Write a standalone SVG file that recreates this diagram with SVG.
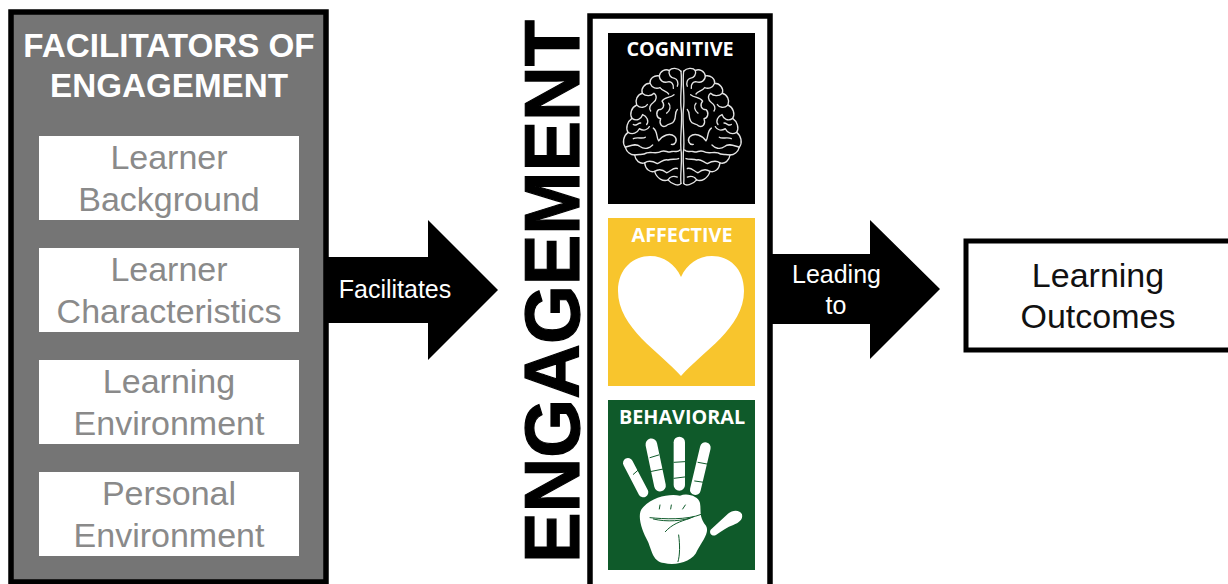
<svg xmlns="http://www.w3.org/2000/svg" width="1228" height="584" viewBox="0 0 1228 584">
<style>
.t{font-family:"Liberation Sans",Arial,sans-serif;text-anchor:middle}
.item{fill:#fff}
.itext{font-size:34px;fill:#8a8a8a}
.ptitle{font-family:"Open Sans","Noto Sans",sans-serif;font-weight:700;font-size:19.8px;text-anchor:middle}
.brain{fill:none;stroke:#e4e4e4;stroke-width:4;stroke-linecap:round;stroke-linejoin:round}
.gap{fill:none;stroke:#0f5a2a;stroke-width:3;stroke-linecap:round}
</style>
<defs>
<g id="half">
<path class="brain" d="M243 150C234 140 215 139 208 148C196 142 180 150 178 163C162 160 148 171 150 184C134 184 122 198 127 212C112 216 104 232 110 245C94 252 88 270 96 283C82 292 76 310 84 322C70 332 66 352 76 364C80 378 92 386 104 386C106 402 120 412 134 408C136 426 150 436 164 432C170 452 190 462 204 456C216 470 238 474 243 466"/>
<path class="brain" d="M243 150C248 190 238 220 244 260C248 300 238 340 244 380C246 420 240 440 243 466"/>
<path class="brain" d="M208 148C204 158 212 170 224 170C232 172 236 182 232 192M178 163C178 176 190 184 204 180C214 178 222 186 220 198M150 184C156 198 170 200 180 196C188 206 200 206 206 214M127 212C138 222 154 220 162 212C172 218 170 232 160 238C150 244 146 254 152 262"/>
<path class="brain" d="M110 245C122 256 136 252 142 244M96 283C110 292 124 284 128 272C140 276 148 290 140 300M84 322C98 330 112 324 118 312C130 318 142 316 148 306M100 300C108 306 112 296 122 296"/>
<path class="brain" d="M222 216C210 226 194 222 186 234C196 246 190 258 176 258C166 266 170 282 182 284C176 298 186 310 198 304C206 296 218 300 222 290C230 280 222 268 232 258M206 240C214 248 210 262 200 268"/>
<path class="brain" d="M160 310C174 320 168 336 176 346C188 330 210 322 224 334C234 344 226 358 214 356M76 364C92 360 108 352 120 362C134 372 150 366 158 358M100 340C112 334 128 342 136 336"/>
<path class="brain" d="M104 386C118 382 130 388 140 380C154 376 170 384 184 376C196 370 204 382 216 376C226 374 232 380 240 372M134 408C146 400 160 404 172 410C184 406 192 396 204 400C214 396 226 400 236 396M164 432C176 424 190 428 200 436C212 432 220 420 232 424M204 456C210 446 222 444 232 448"/>
</g>
</defs>

<g id="facilitators">
<rect x="11" y="12" width="315" height="570" fill="#757575" stroke="#000" stroke-width="5.5"/>
<text class="t" x="169" y="57" font-size="33.2" font-weight="700" fill="#fff">FACILITATORS OF</text>
<text class="t" x="169" y="97" font-size="33.2" font-weight="700" fill="#fff">ENGAGEMENT</text>
</g>
<g id="learner-background">
<rect class="item" x="39" y="136" width="260" height="84"/>
<text class="t itext" x="169" y="169">Learner</text>
<text class="t itext" x="169" y="211">Background</text>
</g>
<g id="learner-characteristics">
<rect class="item" x="39" y="248" width="260" height="84"/>
<text class="t itext" x="169" y="281">Learner</text>
<text class="t itext" x="169" y="323">Characteristics</text>
</g>
<g id="learning-environment">
<rect class="item" x="39" y="360" width="260" height="84"/>
<text class="t itext" x="169" y="393">Learning</text>
<text class="t itext" x="169" y="435">Environment</text>
</g>
<g id="personal-environment">
<rect class="item" x="39" y="472" width="260" height="84"/>
<text class="t itext" x="169" y="505">Personal</text>
<text class="t itext" x="169" y="547">Environment</text>
</g>

<g id="connectors">
<polygon points="327,257 428,257 428,220 498,290 428,360 428,323 327,323" fill="#000"/>
<polygon points="771,254 870,254 870,220 940,289 870,359 870,324 771,324" fill="#000"/>
<text class="t" x="395" y="298" font-size="25" fill="#fff">Facilitates</text>
<text class="t" x="836.5" y="283" font-size="25" fill="#fff">Leading</text>
<text class="t" x="836" y="314" font-size="25" fill="#fff">to</text>
</g>

<g id="engagement">
<rect x="590" y="16" width="180" height="572" fill="#fff" stroke="#000" stroke-width="5.5"/>
</g>

<g id="engagement-title">
<text class="t" transform="translate(579.4 291.5) rotate(-90)" font-size="78" font-weight="700" fill="#000" stroke="#000" stroke-width="1.2" textLength="543" lengthAdjust="spacingAndGlyphs">ENGAGEMENT</text>
</g>

<g id="cognitive">
<rect x="608" y="33" width="147" height="171" fill="#000"/>
<text class="ptitle" x="680" y="56" fill="#fff">COGNITIVE</text>
<g transform="translate(600 18) scale(.3333 .355)">
<use href="#half"/>
<use href="#half" transform="translate(494 0) scale(-1 1)"/>
</g>
</g>

<g id="affective">
<rect x="608" y="218" width="147" height="168" fill="#f8c52d"/>
<text class="ptitle" x="682" y="242" fill="#fff">AFFECTIVE</text>
<path d="M681 376C660 352 618 328 618 291C618 268 634 256 650 256C664 256 675 264 681 277C687 264 698 256 712 256C729 256 744 268 744 291C744 328 702 352 681 376Z" fill="#fff"/>
</g>

<g id="behavioral">
<rect x="608" y="400" width="147" height="170" fill="#0f5a2a"/>
<text class="ptitle" x="682" y="424" fill="#fff">BEHAVIORAL</text>
<g transform="translate(600 395) scale(.3333)">
<g fill="none" stroke="#fff" stroke-linecap="round">
<path d="M84 204L130 292" stroke-width="30"/>
<path d="M154 148L180 272" stroke-width="35"/>
<path d="M238 142V270" stroke-width="34"/>
<path d="M316 158L286 284" stroke-width="32"/>
</g>
<path d="M332 404C350 388 366 372 384 356C398 344 420 344 426 358C430 374 416 384 400 390C382 396 366 408 348 420C336 426 326 414 332 404Z" fill="#fff"/>
<path d="M130 336C160 304 210 296 240 302C262 292 296 304 300 324C304 346 296 366 318 392C330 412 306 440 292 466C280 500 226 514 192 504C160 500 156 470 144 440C124 404 108 356 130 336Z" fill="#fff"/>
<path class="gap" d="M150 368C190 372 260 376 304 358M160 372C200 382 250 378 280 366M196 410C216 388 238 380 270 370M178 342L180 330M212 342L214 330M248 342L256 330M100 238L116 224M150 188L176 180M150 230L190 222M222 202L254 200M222 250L254 246M294 202L326 208M284 258L312 262M236 420C240 450 240 480 234 500" />
</g>
</g>

<g id="learning-outcomes">
<rect x="966" y="241" width="270" height="109" fill="#fff" stroke="#000" stroke-width="5"/>
<text class="t" x="1098" y="287" font-size="34" fill="#111">Learning</text>
<text class="t" x="1098" y="328" font-size="34" fill="#111">Outcomes</text>
</g>
</svg>
